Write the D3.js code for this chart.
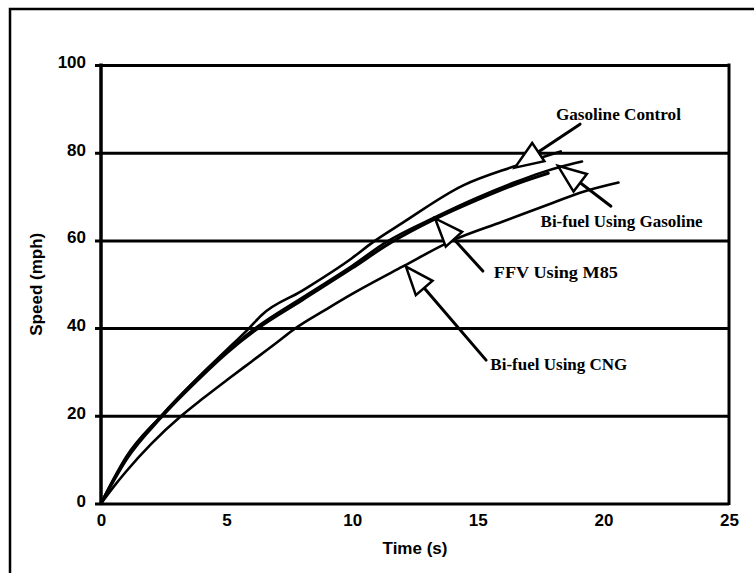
<!DOCTYPE html>
<html>
<head>
<meta charset="utf-8">
<script src="https://cdn.jsdelivr.net/npm/d3@7"></script>
<style>
  body { margin: 0; background: #fff; }
  svg { display: block; }
  .tick text { font-family: "Liberation Sans", Arial, sans-serif; font-weight: bold; font-size: 17px; fill: #000; }
  .title { font-family: "Liberation Sans", Arial, sans-serif; font-weight: bold; font-size: 17px; }
  .note { font-family: "Liberation Serif", "Times New Roman", serif; font-weight: bold; font-size: 16px; }
</style>
</head>
<body>
<div id="chart"></div>
<script>
// speed (mph) against time (s)
var gasControlT = [0, 0.5, 1, 2.4, 4, 5, 5.9, 6.4, 8, 10, 10.8, 12, 14.4, 16.4, 18.3];
var gasControlV = [0, 5.6, 10.6, 20, 29.5, 35, 40, 43, 48.5, 56, 59.5, 64, 72.5, 76.8, 80.3];

var bifuelGasT = [0, 0.5, 1, 2.4, 4, 5, 6.15, 8, 10, 11.35, 13.3, 15, 16.5, 17.5, 18.3, 19.15];
var bifuelGasV = [0, 5.4, 10.3, 20, 29.4, 34.6, 40, 46.9, 54.2, 59.6, 65.3, 69.8, 73.3, 75.4, 76.8, 78];

var ffvT = [0, 0.5, 1, 2.45, 4, 5, 6.25, 8, 10, 11.45, 13.3, 15, 16.5, 17.8];
var ffvV = [0, 5.2, 10, 20, 29, 34.3, 40, 46.4, 53.7, 59.2, 64.9, 69.3, 72.8, 75.3];

var cngT = [0, 0.5, 1, 2, 3.2, 4, 5, 6, 7, 7.65, 9, 10, 12, 14, 16, 18, 19.2, 20.6];
var cngV = [0, 3.8, 7.3, 13.6, 20, 23.7, 28.1, 32.4, 36.7, 39.6, 44.4, 47.8, 54, 60, 64.3, 68.6, 71.1, 73.2];

var xTicks = [0, 5, 10, 15, 20, 25];
var yTicks = [0, 20, 40, 60, 80, 100];

// callouts: label, arrow tip and tail (data units), label anchor (data units)
var noteText = ["Gasoline Control", "Bi-fuel Using Gasoline", "FFV Using M85", "Bi-fuel Using CNG"];
var noteTip  = [[16.48, 76.6], [18.19, 77.0], [13.3, 65.0], [12.14, 54.0]];
var noteTail = [[19.07, 86.5], [20.3, 67.8], [15.2, 53.0], [15.33, 32.7]];
var noteAt   = [[18.11, 88.8], [17.5, 64.4], [15.64, 52.8], [15.5, 31.8]];
var noteLen  = [125, 162, 124, 137];

var width = 754, height = 573;

var svg = d3.select("#chart").append("svg")
    .attr("width", width)
    .attr("height", height);

// outer frame (only top and left sides show in the scan)
svg.append("path")
    .attr("d", "M10,573 L10,9 L754,9")
    .attr("fill", "none")
    .attr("stroke", "#000")
    .attr("stroke-width", 2.5);

var x = d3.scaleLinear().domain([0, 25]).range([101, 729]);
var y = d3.scaleLinear().domain([0, 100]).range([503.5, 65]);

// horizontal grid + y labels
var gy = svg.append("g")
    .attr("transform", "translate(95,0)")
    .call(d3.axisLeft(y).tickValues(yTicks).tickSizeInner(-(x.range()[1] - 95)).tickSizeOuter(0).tickPadding(9));
gy.select(".domain").remove();
gy.selectAll(".tick line").attr("stroke", "#000").attr("stroke-width", 3);
gy.selectAll(".tick text").attr("dy", "0.15em");

var gx = svg.append("g")
    .attr("transform", "translate(0," + y(0) + ")")
    .call(d3.axisBottom(x).tickValues(xTicks).tickSize(0).tickPadding(10));
gx.select(".domain").remove();

// left and right frame of the plot
svg.append("line")
    .attr("x1", x(0)).attr("x2", x(0))
    .attr("y1", y(100) - 1.5).attr("y2", y(0) + 1.5)
    .attr("stroke", "#000").attr("stroke-width", 3.5);
svg.append("line")
    .attr("x1", x(25)).attr("x2", x(25))
    .attr("y1", y(100) - 1.5).attr("y2", y(0) + 1.5)
    .attr("stroke", "#000").attr("stroke-width", 3);

// axis titles
svg.append("text")
    .attr("class", "title")
    .attr("x", (x(0) + x(25)) / 2)
    .attr("y", 554)
    .attr("text-anchor", "middle")
    .text("Time (s)");
svg.append("text")
    .attr("class", "title")
    .attr("transform", "translate(42," + ((y(0) + y(100)) / 2) + ") rotate(-90)")
    .attr("text-anchor", "middle")
    .text("Speed (mph)");

// curves
var line = d3.line()
    .x(function(d) { return x(d[0]); })
    .y(function(d) { return y(d[1]); })
    .curve(d3.curveMonotoneX);

var series = [
  [gasControlT, gasControlV, 2.6],
  [bifuelGasT, bifuelGasV, 2.6],
  [ffvT, ffvV, 3.2],
  [cngT, cngV, 2.6]
];

svg.selectAll(".curve")
    .data(series)
    .enter().append("path")
    .attr("class", "curve")
    .attr("d", function(s) { return line(d3.zip(s[0], s[1])); })
    .attr("fill", "none")
    .attr("stroke", "#000")
    .attr("stroke-width", function(s) { return s[2]; })
    .attr("stroke-linejoin", "round")
    .attr("stroke-linecap", "round");

// callout arrows with hollow heads
var headLen = 28, headHalf = 11;
noteText.forEach(function(t, i) {
  var tx = x(noteTip[i][0]), ty = y(noteTip[i][1]);
  var sx = x(noteTail[i][0]), sy = y(noteTail[i][1]);
  var dx = sx - tx, dy = sy - ty, h = Math.sqrt(dx * dx + dy * dy);
  var ux = dx / h, uy = dy / h;
  var bx = tx + ux * headLen, by = ty + uy * headLen;

  svg.append("line")
      .attr("x1", bx).attr("y1", by)
      .attr("x2", sx).attr("y2", sy)
      .attr("stroke", "#000").attr("stroke-width", 3)
      .attr("stroke-linecap", "round");

  svg.append("path")
      .attr("d", "M" + tx + "," + ty +
                 "L" + (bx - uy * headHalf) + "," + (by + ux * headHalf) +
                 "L" + (bx + uy * headHalf) + "," + (by - ux * headHalf) + "Z")
      .attr("fill", "#fff")
      .attr("stroke", "#000")
      .attr("stroke-width", 2.5)
      .attr("stroke-linejoin", "miter");

  svg.append("text")
      .attr("class", "note")
      .attr("x", x(noteAt[i][0]))
      .attr("y", y(noteAt[i][1]))
      .attr("dy", "0.35em")
      .attr("textLength", noteLen[i])
      .attr("lengthAdjust", "spacingAndGlyphs")
      .text(t);
});
</script>
</body>
</html>
